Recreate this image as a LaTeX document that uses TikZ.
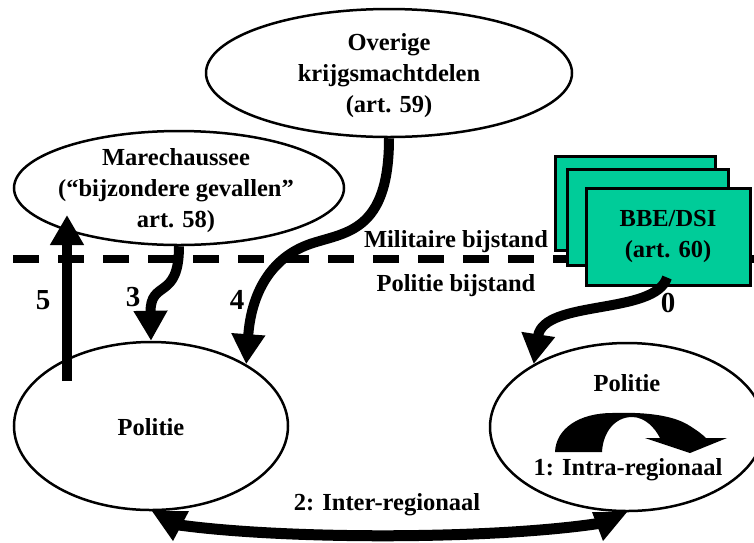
\documentclass[tikz,border=0pt]{standalone}
\usepackage{fontspec}
\setmainfont{Liberation Serif}
\usetikzlibrary{shapes.geometric,arrows.meta,calc}
\definecolor{cardgreen}{HTML}{00CC99}

\tikzset{
  txt/.style={font=\fontsize{24.5}{31}\selectfont\bfseries, align=center, inner sep=0pt},
  num/.style={font=\fontsize{29}{30}\selectfont\bfseries, inner sep=0pt},
  oval/.style={draw, line width=2.5pt, ellipse, fill=white, inner sep=0pt},
  card/.style={draw, line width=3pt, fill=cardgreen, inner sep=0pt},
  flow/.style={line width=10pt, -{Triangle[width=32pt,length=30pt]}},
  border/.style={line width=8pt, dash pattern=on 26pt off 19pt}
}

\begin{document}
\begin{tikzpicture}[x=1pt,y=-1pt]
\useasboundingbox (0,0) rectangle (754,542);
\clip (0,0) rectangle (754,542);

% boundary between military and police assistance
\draw[border] (13,259) -- (754,259);

% inter-regional assistance: shaft and heads below the two police ovals
\draw[line width=11pt] (172,524) .. controls (280,540) and (500,540) .. (608,522);
\fill (152,511) -- (189,511) -- (173,541) -- cycle;
\fill (592,512) -- (627,512) -- (603,541) -- cycle;

% ovals
\node[oval, minimum width=366pt, minimum height=128pt] (ov) at (389,73) {};
\node[oval, minimum width=330pt, minimum height=114pt] (mar) at (179,188) {};
\node[oval, minimum width=274pt, minimum height=168pt] (pl) at (151,426) {};
\node[oval, minimum width=274pt, minimum height=168pt] (pr) at (627,427) {};

\node[txt] (ovt) at (389,76) {Overige\\krijgsmachtdelen\\(art. 59)};
\node[txt] (mart) at (176,191) {Marechaussee\\(“bijzondere gevallen”\\art. 58)};
\node[txt] (plt) at (151,427) {Politie};
\node[txt] (prt) at (627,383) {Politie};
\node[txt] (intra) at (628,470) {1: Intra-regionaal};
\node[txt] (inter) at (387,505) {2: Inter-regionaal};

% stacked BBE/DSI cards
\node[card, minimum width=160pt, minimum height=94pt] (bbe3) at (635,203) {};
\node[card, minimum width=161pt, minimum height=96pt] (bbe2) at (647.5,217) {};
\node[card, minimum width=164pt, minimum height=97pt] (bbe) at (668,236.5) {};
\node[txt] (bbet) at (bbe) {BBE/DSI\\(art. 60)};

% zone labels
\node[txt] (mil) at (456,242) {Militaire bijstand};
\node[txt] (pol) at (456,286) {Politie bijstand};

% intra-regional curved arrow
\fill (555,452) .. controls (556,428) and (580,413) .. (612,413)
      .. controls (640,412) and (672,414) .. (690,426)
      .. controls (698,431) and (703,435) .. (706,438)
      -- (727,438) -- (690,453) -- (645,438) -- (660,438)
      .. controls (655,428) and (645,417) .. (632,417)
      .. controls (615,417) and (603,432) .. (602,452) -- cycle;

% assistance flows
\coordinate (c5a) at (67,381);
\coordinate (c5b) at (67,215);
\coordinate (c4) at (310,244);
\draw[flow] (c5a) -- (c5b);
\draw[flow] (mar.south) .. controls +(0,55) and +(-1,-62) .. (pl.north);
\draw[flow] (ov.south) .. controls +(0,95) and +(35,-12) .. (c4)
      .. controls +(-40,14) and +(5,-70) .. (pl.33);
\draw[flow] ([xshift=-1pt,yshift=9pt]bbe.south) .. controls +(-12,38) and +(10,-65) .. (pr.146);

\node[num] (n5) at (43,300) {5};
\node[num] (n3) at (133,297) {3};
\node[num] (n4) at (237,300) {4};
\node[num] (n0) at (668,303) {0};
\end{tikzpicture}
\end{document}
